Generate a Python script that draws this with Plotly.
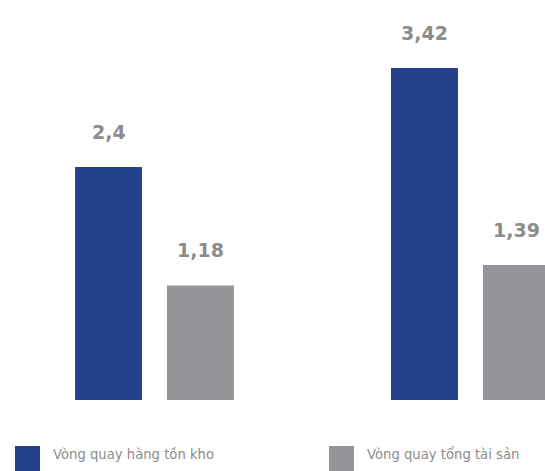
import plotly.graph_objects as go

# ---- data ----
groups = ["Kỳ 1", "Kỳ 2"]
series_names = ["Vòng quay hàng tồn kho", "Vòng quay tổng tài sản"]
inventory_turnover = [2.4, 3.42]
asset_turnover = [1.18, 1.39]
series_values = [inventory_turnover, asset_turnover]

colors = ["#243F8B", "#939598"]
label_color = "#8C8C8C"

fig = go.Figure()
for name, vals, col in zip(series_names, series_values, colors):
    fig.add_trace(go.Bar(x=groups, y=vals, name=name, marker_color=col,
                         marker_line_width=0, showlegend=False, hoverinfo="skip"))

# value labels above bars
offsets = [-46, 46]
for vals, dx in zip(series_values, offsets):
    for g, v in zip(groups, vals):
        fig.add_annotation(x=g, y=v, xref="x", yref="y", xshift=dx, yshift=22,
                           text=f"{v:g}".replace(".", ","), showarrow=False,
                           yanchor="bottom", xanchor="center",
                           font=dict(family="DejaVu Sans", size=19, color=label_color,
                                     weight="bold"))

# custom legend (large square swatches)
leg_x = [15, 329]
for name, col, lx in zip(series_names, colors, leg_x):
    fig.add_shape(type="rect", xref="paper", yref="paper",
                  x0=lx / 545, x1=(lx + 25) / 545, y0=-71 / 400, y1=-46 / 400,
                  fillcolor=col, line_width=0)
    fig.add_annotation(xref="paper", yref="paper", x=(lx + 36) / 545, y=-54 / 400,
                       text=name, showarrow=False, xanchor="left", yanchor="middle",
                       font=dict(family="DejaVu Sans", size=13.2, color="#8C8C8C"))

fig.update_layout(
    width=545, height=471,
    margin=dict(l=0, r=0, t=0, b=71),
    paper_bgcolor="white", plot_bgcolor="white",
    barmode="group", bargap=0.418, bargroupgap=0.272,
    xaxis=dict(range=[-0.489, 1.236], showticklabels=False, showgrid=False,
               zeroline=False, showline=False, ticks=""),
    yaxis=dict(range=[0, 4.12], showticklabels=False, showgrid=False,
               zeroline=False, showline=False, ticks=""),
)

fig.write_html("out.html", config={"displayModeBar": False},
               post_script="document.body.style.margin='0px';document.body.style.overflow='hidden';")
